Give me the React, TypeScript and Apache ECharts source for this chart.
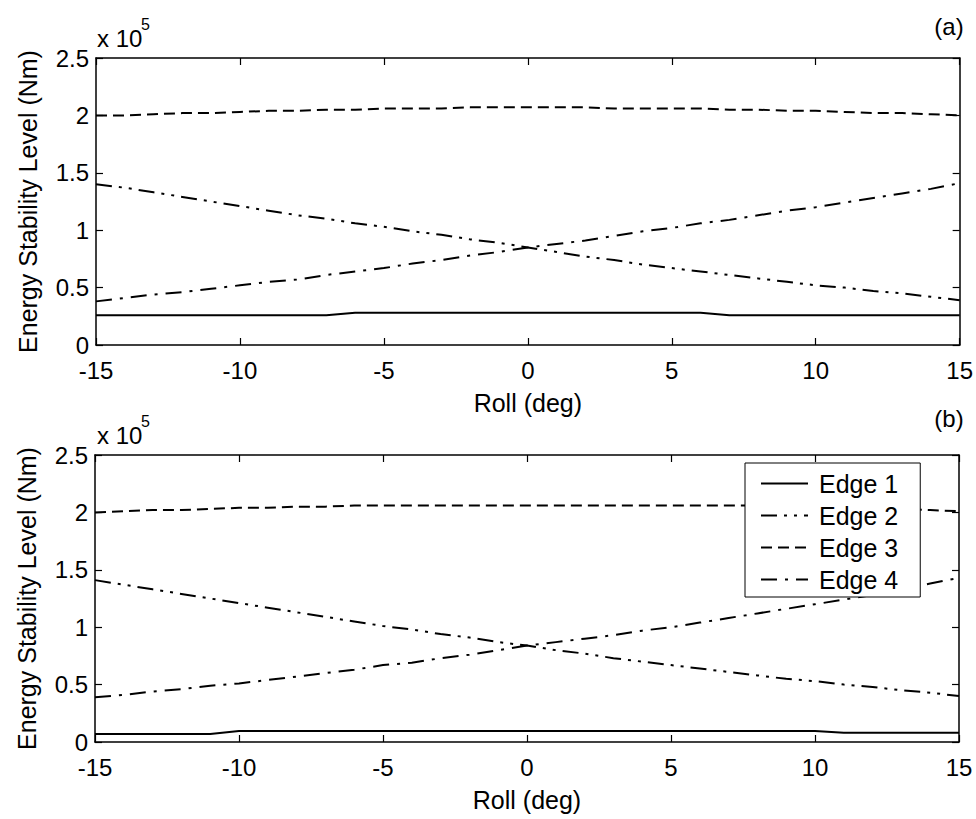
import React, { useEffect, useRef } from "react";
import * as echarts from "echarts";

const rollDeg = [-15, -14, -13, -12, -11, -10, -9, -8, -7, -6, -5, -4, -3, -2, -1, 0, 1, 2, 3, 4, 5, 6, 7, 8, 9, 10, 11, 12, 13, 14, 15];

// values in units of 10^5 Nm
const aEdge1 = [0.26, 0.26, 0.26, 0.26, 0.26, 0.26, 0.26, 0.26, 0.26, 0.28, 0.28, 0.28, 0.28, 0.28, 0.28, 0.28, 0.28, 0.28, 0.28, 0.28, 0.28, 0.28, 0.26, 0.26, 0.26, 0.26, 0.26, 0.26, 0.26, 0.26, 0.26];
const aEdge2 = [1.40, 1.37, 1.33, 1.29, 1.25, 1.21, 1.17, 1.13, 1.10, 1.06, 1.03, 0.99, 0.96, 0.92, 0.89, 0.85, 0.81, 0.77, 0.74, 0.70, 0.67, 0.64, 0.61, 0.58, 0.55, 0.52, 0.50, 0.47, 0.45, 0.42, 0.39];
const aEdge3 = [2.00, 2.00, 2.01, 2.02, 2.02, 2.03, 2.04, 2.04, 2.05, 2.05, 2.06, 2.06, 2.06, 2.07, 2.07, 2.07, 2.07, 2.07, 2.06, 2.06, 2.06, 2.06, 2.05, 2.05, 2.04, 2.04, 2.03, 2.02, 2.02, 2.01, 2.00];
const aEdge4 = [0.38, 0.41, 0.44, 0.46, 0.49, 0.52, 0.55, 0.57, 0.61, 0.64, 0.67, 0.71, 0.74, 0.78, 0.81, 0.85, 0.88, 0.91, 0.95, 0.99, 1.02, 1.06, 1.09, 1.13, 1.17, 1.20, 1.24, 1.28, 1.32, 1.36, 1.41];

const bEdge1 = [0.07, 0.07, 0.07, 0.07, 0.07, 0.095, 0.095, 0.095, 0.095, 0.095, 0.095, 0.095, 0.095, 0.095, 0.095, 0.095, 0.095, 0.095, 0.095, 0.095, 0.095, 0.095, 0.095, 0.095, 0.095, 0.095, 0.08, 0.08, 0.08, 0.08, 0.08];
const bEdge2 = [1.41, 1.37, 1.33, 1.29, 1.25, 1.21, 1.17, 1.13, 1.09, 1.05, 1.01, 0.98, 0.94, 0.91, 0.87, 0.84, 0.80, 0.77, 0.73, 0.70, 0.67, 0.64, 0.61, 0.58, 0.55, 0.53, 0.50, 0.48, 0.45, 0.43, 0.40];
const bEdge3 = [2.00, 2.01, 2.02, 2.02, 2.03, 2.04, 2.04, 2.05, 2.05, 2.06, 2.06, 2.06, 2.06, 2.06, 2.06, 2.06, 2.06, 2.06, 2.06, 2.06, 2.06, 2.06, 2.06, 2.06, 2.06, 2.06, 2.05, 2.04, 2.03, 2.02, 2.01];
const bEdge4 = [0.39, 0.41, 0.44, 0.46, 0.49, 0.51, 0.54, 0.57, 0.60, 0.63, 0.67, 0.69, 0.73, 0.76, 0.80, 0.84, 0.87, 0.90, 0.93, 0.97, 1.00, 1.04, 1.08, 1.12, 1.16, 1.20, 1.24, 1.28, 1.33, 1.38, 1.43];

const seriesNames = ["Edge 1", "Edge 2", "Edge 3", "Edge 4"];
const panelLabels = ["(a)", "(b)"];
const xTitle = "Roll (deg)";
const yTitle = "Energy Stability Level (Nm)";

const FONT = "'Liberation Sans', Arial, sans-serif";

export default function App() {
  const ref = useRef<HTMLDivElement>(null);
  useEffect(() => {
    if (!ref.current) return;
    const chart = echarts.init(ref.current, undefined, { renderer: "svg" });
    const styles: any[] = [
      { type: "solid" },
      { type: [16, 7, 3, 7, 3, 7] },
      { type: [11, 6] },
      { type: [16, 8, 3, 8] },
    ];
    const panels = [
      [aEdge1, aEdge2, aEdge3, aEdge4],
      [bEdge1, bEdge2, bEdge3, bEdge4],
    ];
    const grids = [
      { left: 96, right: 15, top: 58, height: 287 },
      { left: 95, right: 17, top: 455, height: 287 },
    ];
    const axisLine = { show: true, onZero: false, lineStyle: { color: "#000", width: 1.5 } };
    const tick = { show: true, inside: true, length: 7, lineStyle: { color: "#000", width: 1.2 } };
    const xAxes: any[] = [];
    const yAxes: any[] = [];
    panels.forEach((_, gi) => {
      xAxes.push({
        type: "value", gridIndex: gi, min: -15, max: 15, interval: 5, position: "bottom",
        axisLine, axisTick: tick, splitLine: { show: false },
        axisLabel: { color: "#000", fontSize: 24, fontFamily: FONT, margin: 13 },
        name: xTitle, nameLocation: "middle", nameGap: 45,
        nameTextStyle: { color: "#000", fontSize: 25, fontFamily: FONT },
      });
      xAxes.push({
        type: "value", gridIndex: gi, min: -15, max: 15, interval: 5, position: "top",
        axisLine, axisTick: tick, splitLine: { show: false }, axisLabel: { show: false },
      });
      yAxes.push({
        type: "value", gridIndex: gi, min: 0, max: 2.5, interval: 0.5, position: "left",
        axisLine, axisTick: tick, splitLine: { show: false },
        axisLabel: { color: "#000", fontSize: 24, fontFamily: FONT, margin: 7 },
        name: yTitle, nameLocation: "middle", nameGap: 56, nameRotate: 90,
        nameTextStyle: { color: "#000", fontSize: 25, fontFamily: FONT },
      });
      yAxes.push({
        type: "value", gridIndex: gi, min: 0, max: 2.5, interval: 0.5, position: "right",
        axisLine, axisTick: tick, splitLine: { show: false }, axisLabel: { show: false },
      });
    });
    const series: any[] = [];
    panels.forEach((p, gi) => {
      p.forEach((vals, si) => {
        series.push({
          type: "line",
          name: seriesNames[si],
          xAxisIndex: gi * 2,
          yAxisIndex: gi * 2,
          data: rollDeg.map((x, i) => [x, vals[i]]),
          symbol: "none",
          lineStyle: { color: "#000", width: 2, ...styles[si] },
          itemStyle: { color: "#000" },
          z: 3,
        });
      });
    });
    const graphics: any[] = [];
    [38, 435].forEach((y, i) => {
      graphics.push({ type: "text", x: 97, y, style: { text: "x 10", font: `24px ${FONT}`, fill: "#000", verticalAlign: "middle" } });
      graphics.push({ type: "text", x: 141, y: y - 14, style: { text: "5", font: `16px ${FONT}`, fill: "#000", verticalAlign: "middle" } });
      graphics.push({ type: "text", x: 949, y: i === 0 ? 26 : 418, style: { text: panelLabels[i], font: `24px ${FONT}`, fill: "#000", align: "center", verticalAlign: "middle" } });
    });
    chart.setOption({
      animation: false,
      backgroundColor: "#fff",
      grid: grids,
      xAxis: xAxes,
      yAxis: yAxes,
      series,
      legend: {
        data: seriesNames,
        orient: "vertical",
        left: 745,
        top: 463,
        padding: [8, 22, 5, 15],
        itemWidth: 47,
        itemHeight: 14,
        itemGap: 7,
        borderColor: "#000",
        borderWidth: 1,
        backgroundColor: "#fff",
        borderRadius: 0,
        itemStyle: { opacity: 0 },
        textStyle: { color: "#000", fontSize: 25, fontFamily: FONT, lineHeight: 25, padding: [0, 0, 0, 6] },
        selectedMode: false,
        z: 10,
      },
      graphic: graphics,
    });
    return () => chart.dispose();
  }, []);
  return <div ref={ref} style={{ position: "fixed", left: 0, top: 0, width: 976, height: 819, background: "#fff" }} />;
}
